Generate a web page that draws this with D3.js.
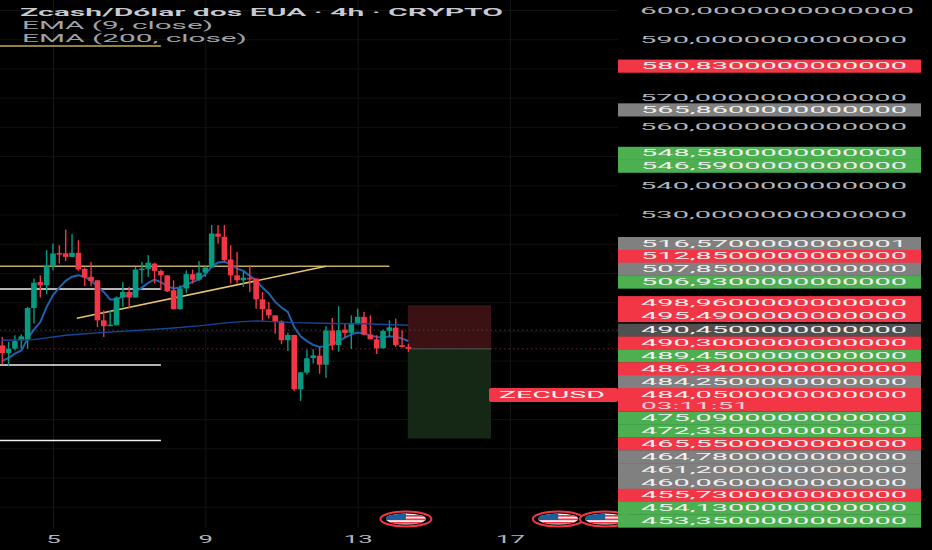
<!DOCTYPE html>
<html>
<head>
<meta charset="utf-8">
<title>ZECUSD</title>
<script src="https://cdn.jsdelivr.net/npm/d3@7"></script>
<style>
    html, body { margin: 0; padding: 0; background: #000; overflow: hidden; }
    text { font-family: Roboto, "Liberation Sans", sans-serif; }
</style>
</head>
<body>
<script>
// =======================DATA================================
const firstBar = Date.UTC(2025, 10, 3, 16)
const barHours = 4

const opens = [485.2, 482.6, 484.1, 487.0, 487.2, 498.0, 506.9, 505.8, 512.3, 516.8, 516.7, 515.5, 516.9, 511.4, 508.7, 507.5, 493.8, 491.8, 492.1, 501.6, 503.5, 501.6, 511.3, 511.4, 513.2, 510.7, 509.2, 504.1, 497.6, 504.7, 509.6, 507.7, 510.1, 511.9, 523.5, 522.4, 514.6, 509.2, 507.5, 508.3, 508.1, 501.0, 497.6, 495.5, 493.5, 487.0, 488.8, 470.2, 475.9, 480.9, 481.7, 478.6, 490.3, 485.3, 490.6, 489.5, 492.9, 495.0, 488.9, 487.3, 484.2, 490.2, 491.3, 485.3, 484.7]
const highs = [488.1, 486.4, 488.7, 489.0, 498.4, 508.1, 509.2, 517.8, 520.1, 519.5, 524.9, 523.3, 521.2, 511.9, 513.8, 507.5, 497.2, 497.2, 502.0, 506.9, 505.2, 512.1, 513.8, 516.1, 513.5, 511.2, 509.2, 507.5, 505.8, 510.9, 511.2, 514.1, 512.7, 526.4, 526.4, 526.4, 519.5, 517.2, 510.7, 512.7, 508.1, 503.5, 500.1, 495.5, 493.8, 489.6, 488.8, 476.0, 483.8, 483.9, 484.7, 491.8, 494.6, 498.6, 492.7, 495.5, 497.8, 496.7, 495.5, 488.7, 490.6, 493.8, 494.4, 490.4, 485.8]
const lows = [478.7, 478.1, 483.5, 484.1, 484.1, 492.7, 501.6, 502.7, 510.9, 513.2, 514.1, 515.5, 510.7, 505.5, 505.5, 491.5, 488.1, 491.8, 492.1, 498.4, 497.8, 501.6, 506.4, 508.7, 506.4, 504.3, 503.5, 497.5, 497.5, 503.2, 506.4, 507.3, 508.7, 511.9, 520.1, 513.8, 506.4, 506.4, 505.2, 503.5, 497.8, 493.6, 494.4, 489.2, 485.6, 483.3, 469.6, 466.2, 475.2, 479.0, 475.5, 474.1, 483.5, 483.0, 487.9, 484.0, 492.4, 488.7, 487.3, 482.3, 484.2, 488.3, 484.7, 484.5, 483.0]
const closes = [482.6, 484.1, 486.7, 488.3, 498.0, 506.7, 505.8, 512.3, 516.7, 516.5, 515.5, 516.9, 511.2, 508.4, 507.3, 493.8, 491.8, 492.3, 501.6, 503.5, 501.6, 511.2, 511.5, 513.5, 510.7, 509.2, 503.7, 497.6, 504.7, 509.6, 507.7, 510.1, 511.9, 523.5, 522.4, 514.4, 509.2, 507.5, 508.4, 507.9, 501.0, 497.6, 495.5, 493.2, 487.0, 488.8, 470.2, 476.0, 480.8, 481.8, 478.6, 490.3, 485.3, 490.4, 489.5, 492.9, 495.0, 488.9, 487.3, 484.2, 490.2, 491.4, 485.3, 484.7, 484.05]

const ema9 = [479.9, 480.9, 482.4, 483.5, 487.5, 490.6, 493.2, 498.4, 502.4, 505.0, 507.3, 508.7, 509.2, 508.7, 507.3, 505.5, 503.5, 500.9, 500.9, 502.0, 502.4, 503.5, 505.0, 506.6, 507.7, 506.9, 505.5, 504.7, 505.0, 506.1, 506.9, 507.9, 509.6, 512.1, 513.6, 513.8, 513.0, 511.5, 510.7, 509.0, 507.5, 505.0, 503.0, 500.1, 498.2, 496.7, 491.5, 488.3, 486.7, 485.4, 484.7, 485.0, 485.6, 486.7, 487.9, 489.0, 489.6, 489.3, 488.6, 488.1, 487.9, 488.3, 488.3, 487.5, 486.7]
const ema200Bars = [0, 5, 10, 15, 20, 26, 31, 36, 40, 46, 52, 57, 64]
const ema200 = [487.0, 487.2, 488.7, 489.5, 490.2, 491.0, 491.9, 493.1, 493.6, 493.0, 492.7, 492.6, 492.1]

const yellowLevels = [587.7, 512.3]
const yellowEndBars = [25, 61]
const whiteLevels = [504.5, 478.5, 452.7]
const whiteEndBar = 25
const trendBars = [11.75, 51]
const trendPrices = [494.5, 512.3]

const entryPrice = 484.05
const stopPrice = 498.96
const targetPrice = 453.35
const positionBars = [63.9, 77]

const eventBars = [63.6, 87.6, 95]

const yTicks = [600, 590, 580, 570, 560, 550, 540, 530, 520, 510, 500, 490, 480, 470, 460, 450, 440, 430]
const dayTicks = [5, 9, 13, 17]

const labelPrices = [580.83, 565.86, 548.58, 546.59, 516.57, 512.85, 507.85, 506.93, 498.96, 495.49, 490.45, 490.30, 489.45, 486.34, 484.25, 484.05, 475.09, 472.33, 465.55, 464.78, 461.20, 460.06, 455.73, 454.13, 453.35]
const labelTexts = ['580,8300000000000', '565,8600000000000', '548,5800000000000', '546,5900000000000', '516,5700000000001', '512,8500000000000', '507,8500000000000', '506,9300000000000', '498,9600000000000', '495,4900000000000', '490,4500000000000', '490,3000000000000', '489,4500000000000', '486,3400000000000', '484,2500000000000', '484,0500000000000', '475,0900000000000', '472,3300000000000', '465,5500000000000', '464,7800000000000', '461,2000000000000', '460,0600000000000', '455,7300000000000', '454,1300000000000', '453,3500000000000']
const labelKinds = ['red', 'gray', 'green', 'green', 'gray', 'red', 'gray', 'green', 'red', 'red', 'dark', 'red', 'green', 'red', 'gray', 'red', 'green', 'green', 'red', 'gray', 'gray', 'gray', 'red', 'green', 'green']

// =======================SETUP================================
const width = 932, height = 550
const axisX = 618, labelRight = 921, plotBottom = 528
const colors = { red: '#f23645', green: '#4caf50', gray: '#808080', dark: '#505050' }
const upColor = '#089981', downColor = '#f23645'

const svg = d3.select('body').append('svg')
    .attr('width', width)
    .attr('height', height)
    .style('display', 'block')

svg.append('rect').attr('width', width).attr('height', height).attr('fill', '#000')

const x = d3.scaleUtc()
    .domain([new Date(Date.UTC(2025, 10, 5)), new Date(Date.UTC(2025, 10, 17))])
    .range([53, 510])
const y = d3.scaleLinear()
    .domain([600, 430])
    .range([10, 10 + 170 * 2.922])

const barX = i => x(new Date(firstBar + i * barHours * 3600000))

// stretched text, everything on this chart is wide
function wide(sel, len) {
    return sel.attr('textLength', len).attr('lengthAdjust', 'spacingAndGlyphs')
}

// =========================================
// =============Label layout================
// =========================================
const labelH = 12.85
const pivot = labelPrices.indexOf(490.45)
const labelTop = labelPrices.map(p => y(p) - labelH / 2)

// labels above the pivot get pushed up, the ones below get pushed down
for (let i = pivot - 1; i >= 0; i--) {
    labelTop[i] = Math.min(labelTop[i], labelTop[i + 1] - labelH)
}
for (let i = pivot + 1; i < labelPrices.length; i++) {
    const prevH = labelPrices[i - 1] === entryPrice ? labelH * 1.85 : labelH
    labelTop[i] = Math.max(labelTop[i], labelTop[i - 1] + prevH)
}

// a tick text is dropped when a price label sits on it
function coveredByLabel(tick) {
    const ty = y(tick)
    return labelTop.some(t => ty > t - 5 && ty < t + labelH * 1.85 + 5 && t + labelH + 5 > ty)
}

// =========================================
// =============Grid and axes===============
// =========================================
const yAxis = svg.append('g')
    .attr('transform', 'translate(' + axisX + ',0)')
    .call(d3.axisRight(y)
        .tickValues(yTicks)
        .tickSize(-axisX)
        .tickPadding(22)
        .tickFormat(d => d + ',0000000000000'))
yAxis.select('.domain').remove()
yAxis.selectAll('line').attr('stroke', '#111')
yAxis.selectAll('text')
    .filter(d => coveredByLabel(d))
    .remove()
yAxis.selectAll('text')
    .attr('textLength', d => d === 600 ? 274 : 267)
    .attr('lengthAdjust', 'spacingAndGlyphs')
    .attr('fill', '#b2b5be')
    .attr('font-size', 9.5)

const xAxis = svg.append('g')
    .attr('transform', 'translate(0,' + plotBottom + ')')
    .call(d3.axisBottom(x)
        .tickValues(dayTicks.map(d => new Date(Date.UTC(2025, 10, d))))
        .tickSize(-plotBottom)
        .tickPadding(7)
        .tickFormat(d3.utcFormat('%-d')))
xAxis.select('.domain').remove()
xAxis.selectAll('line').attr('stroke', '#151515')
xAxis.selectAll('text')
    .attr('fill', '#b2b5be')
    .attr('font-size', 11)
    .attr('textLength', d => String(d.getUTCDate()).length * 14.5)
    .attr('lengthAdjust', 'spacingAndGlyphs')

// =========================================
// =============Position box================
// =========================================
svg.append('rect')
    .attr('x', barX(positionBars[0]))
    .attr('width', barX(positionBars[1]) - barX(positionBars[0]))
    .attr('y', y(stopPrice))
    .attr('height', y(entryPrice) - y(stopPrice))
    .attr('fill', '#3c1114')
svg.append('rect')
    .attr('x', barX(positionBars[0]))
    .attr('width', barX(positionBars[1]) - barX(positionBars[0]))
    .attr('y', y(entryPrice))
    .attr('height', y(targetPrice) - y(entryPrice))
    .attr('fill', '#152815')

// =========================================
// =============Drawn levels================
// =========================================
yellowLevels.forEach((p, i) => {
    svg.append('line')
        .attr('x1', 0).attr('x2', barX(yellowEndBars[i]))
        .attr('y1', y(p)).attr('y2', y(p))
        .attr('stroke', '#c2ad62')
        .attr('stroke-width', 1.5)
})
whiteLevels.forEach(p => {
    svg.append('line')
        .attr('x1', 0).attr('x2', barX(whiteEndBar))
        .attr('y1', y(p)).attr('y2', y(p))
        .attr('stroke', '#f0f0f0')
        .attr('stroke-width', 1.5)
})
svg.append('line')
    .attr('x1', barX(trendBars[0])).attr('y1', y(trendPrices[0]))
    .attr('x2', barX(trendBars[1])).attr('y2', y(trendPrices[1]))
    .attr('stroke', '#e8c36f')
    .attr('stroke-width', 1.5)

// price lines
svg.append('line')
    .attr('x1', 0).attr('x2', axisX)
    .attr('y1', y(490.45)).attr('y2', y(490.45))
    .attr('stroke', '#444')
    .attr('stroke-dasharray', '1.5,3')
svg.append('line')
    .attr('x1', 0).attr('x2', axisX)
    .attr('y1', y(entryPrice)).attr('y2', y(entryPrice))
    .attr('stroke', '#6a2328')
    .attr('stroke-dasharray', '1.5,3')
svg.append('line')
    .attr('x1', barX(positionBars[0])).attr('x2', barX(positionBars[1]))
    .attr('y1', y(entryPrice)).attr('y2', y(entryPrice))
    .attr('stroke', '#555')

// =========================================
// =============EMA lines and candles=======
// =========================================
const emaLine = d3.line()
    .x((d, i) => barX(i))
    .y(d => y(d))

svg.append('path')
    .attr('d', emaLine(ema9))
    .attr('fill', 'none')
    .attr('stroke', '#1f62ad')
    .attr('stroke-width', 2)

const candles = svg.append('g').selectAll('g')
    .data(opens.map((o, i) => ({ i: i, o: o, h: highs[i], l: lows[i], c: closes[i] })))
    .enter().append('g')
    .attr('fill', d => d.c >= d.o ? upColor : downColor)

candles.append('rect')
    .attr('x', d => barX(d.i) - 0.7)
    .attr('width', 1.4)
    .attr('y', d => y(d.h))
    .attr('height', d => y(d.l) - y(d.h))
candles.append('rect')
    .attr('x', d => barX(d.i) - 2.8)
    .attr('width', 5.6)
    .attr('y', d => y(Math.max(d.o, d.c)))
    .attr('height', d => Math.max(y(Math.min(d.o, d.c)) - y(Math.max(d.o, d.c)), 1.5))

svg.append('path')
    .attr('d', d3.line().x((d, i) => barX(ema200Bars[i])).y(d => y(d))(ema200))
    .attr('fill', 'none')
    .attr('stroke', '#17469a')
    .attr('stroke-width', 1.4)

// =========================================
// =============Legend======================
// =========================================
wide(svg.append('text').attr('x', 20).attr('y', 16).text('Zcash/Dólar dos EUA · 4h · CRYPTO'), 483)
    .attr('fill', '#c8cbd3').attr('font-size', 10).attr('font-weight', 600)
wide(svg.append('text').attr('x', 22).attr('y', 29).text('EMA (9, close)'), 191)
    .attr('fill', '#a0a3aa').attr('font-size', 10)
wide(svg.append('text').attr('x', 22).attr('y', 42).text('EMA (200, close)'), 225)
    .attr('fill', '#a0a3aa').attr('font-size', 10)

// =========================================
// =============Event flags=================
// =========================================
const defs = svg.append('defs')
eventBars.forEach((b, i) => {
    const cx = barX(b), cy = 519
    defs.append('clipPath').attr('id', 'flag' + i)
        .append('ellipse').attr('cx', cx).attr('cy', cy).attr('rx', 20).attr('ry', 5.5)
    const g = svg.append('g')
    g.append('ellipse')
        .attr('cx', cx).attr('cy', cy).attr('rx', 25.5).attr('ry', 7.5)
        .attr('fill', '#000')
        .attr('stroke', downColor)
        .attr('stroke-width', 2)
    const flag = g.append('g').attr('clip-path', 'url(#flag' + i + ')')
    flag.append('rect').attr('x', cx - 20).attr('y', cy - 6).attr('width', 40).attr('height', 12).attr('fill', '#f4f4f4')
    d3.range(3).forEach(k => {
        flag.append('rect').attr('x', cx - 20).attr('y', cy - 4 + k * 3.5).attr('width', 40).attr('height', 1.7).attr('fill', downColor)
    })
    flag.append('rect').attr('x', cx - 20).attr('y', cy - 6).attr('width', 20).attr('height', 7).attr('fill', '#1c5f9e')
})

// =========================================
// =============Price labels================
// =========================================
const labels = svg.append('g').selectAll('g')
    .data(labelPrices)
    .enter().append('g')
    .attr('transform', (d, i) => 'translate(' + axisX + ',' + labelTop[i] + ')')

labels.append('rect')
    .attr('width', labelRight - axisX)
    .attr('height', (d, i) => d === entryPrice ? labelH * 1.85 : labelH + 0.3)
    .attr('fill', (d, i) => colors[labelKinds[i]])

labels.append('text')
    .attr('x', 23)
    .attr('y', labelH / 2)
    .attr('dy', '.34em')
    .attr('fill', '#f0f0f0')
    .attr('font-size', 9.5)
    .attr('textLength', 266)
    .attr('lengthAdjust', 'spacingAndGlyphs')
    .text((d, i) => labelTexts[i])

// countdown under the last price
const lastIdx = labelPrices.indexOf(entryPrice)
wide(svg.append('text')
    .attr('x', axisX + 23)
    .attr('y', labelTop[lastIdx] + labelH * 1.4)
    .attr('dy', '.34em')
    .text('03:11:51'), 108)
    .attr('fill', '#fbd0d4')
    .attr('font-size', 9)

// symbol tag
const tagTop = labelTop[lastIdx]
svg.append('rect')
    .attr('x', 489).attr('y', tagTop)
    .attr('width', axisX - 489).attr('height', 14)
    .attr('rx', 2)
    .attr('fill', downColor)
wide(svg.append('text')
    .attr('x', 499)
    .attr('y', tagTop + 7)
    .attr('dy', '.34em')
    .text('ZECUSD'), 106)
    .attr('fill', '#f5f5f5')
    .attr('font-size', 9.5)
</script>
</body>
</html>
